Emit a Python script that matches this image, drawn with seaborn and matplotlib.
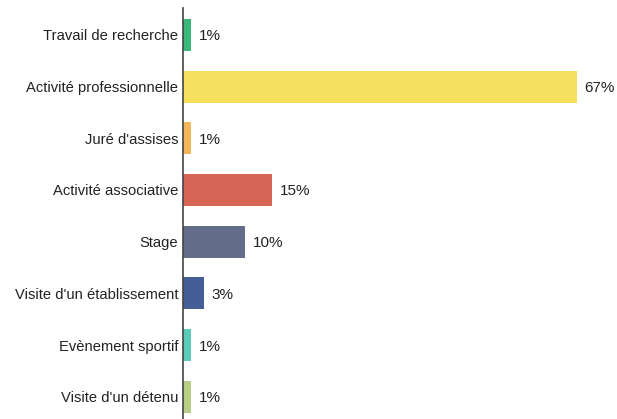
import matplotlib
matplotlib.use("Agg")
import matplotlib.pyplot as plt
import pandas as pd
import seaborn as sns

# Données
categories = [
    "Travail de recherche",
    "Activité professionnelle",
    "Juré d'assises",
    "Activité associative",
    "Stage",
    "Visite d'un établissement",
    "Evènement sportif",
    "Visite d'un détenu",
]
valeurs = [1.4, 67.0, 1.4, 15.1, 10.5, 3.6, 1.4, 1.4]
etiquettes = ["1%", "67%", "1%", "15%", "10%", "3%", "1%", "1%"]
couleurs = ["#3bb87a", "#f5e15e", "#f4b65a", "#d66556", "#636c89",
            "#465e97", "#5ccbba", "#b6cf84"]

sns.set_style("white")
plt.rcParams["font.family"] = ["Liberation Sans", "DejaVu Sans"]

df = pd.DataFrame({"categorie": categories, "valeur": valeurs})

fig = plt.figure(figsize=(6.17, 4.19), dpi=100)
ax = fig.add_axes([183 / 617, 0.0, (617 - 183) / 617, 411 / 419])

sns.barplot(data=df, x="valeur", y="categorie", hue="categorie",
            palette=couleurs, legend=False, width=0.62, ax=ax,
            saturation=1, linewidth=0)

for i, (v, lab) in enumerate(zip(valeurs, etiquettes)):
    ax.text(v + 1.3, i, lab, va="center_baseline", ha="left", fontsize=11,
            color="#222222", clip_on=False)

ax.set_xlim(0, (617 - 183) / 5.88)
ax.set_ylim(7.43, -0.52)
ax.set_xlabel("")
ax.set_ylabel("")
ax.set_xticks([])
ax.tick_params(axis="y", length=0, labelsize=10.6, labelcolor="#222222", pad=3.5)
for s in ["top", "right", "bottom"]:
    ax.spines[s].set_visible(False)
ax.spines["left"].set_color("#444444")
ax.spines["left"].set_linewidth(1.2)

plt.savefig("out.png", dpi=100)
